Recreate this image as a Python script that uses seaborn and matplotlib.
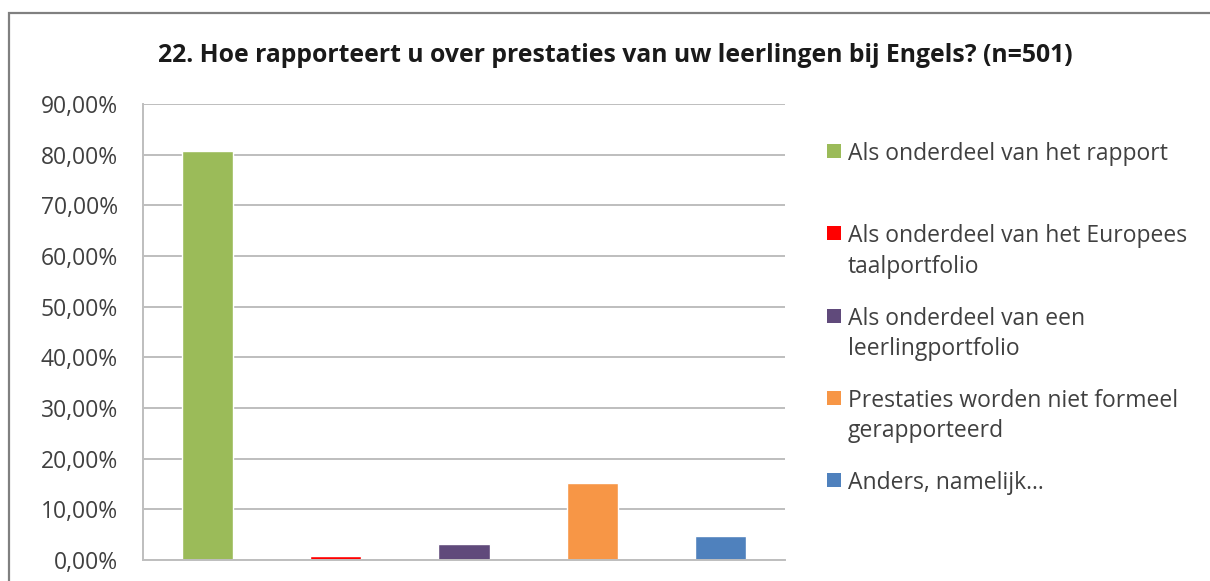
import matplotlib
matplotlib.use("Agg")
import matplotlib.pyplot as plt
import seaborn as sns
import pandas as pd
from matplotlib.patches import Rectangle
from matplotlib.legend_handler import HandlerPatch
from matplotlib.ticker import FuncFormatter, MultipleLocator

title = "22. Hoe rapporteert u over prestaties van uw leerlingen bij Engels? (n=501)"
categories = [
    "Als onderdeel van het rapport",
    "Als onderdeel van het Europees\ntaalportfolio",
    "Als onderdeel van een\nleerlingportfolio",
    "Prestaties worden niet formeel\ngerapporteerd",
    "Anders, namelijk...",
]
values = [0.808, 0.008, 0.032, 0.152, 0.048]
colors = ["#9BBB59", "#FF0000", "#604A7B", "#F79646", "#4F81BD"]

sns.set_theme(style="white")
plt.rcParams["font.family"] = ["Open Sans", "DejaVu Sans"]

fig = plt.figure(figsize=(12.10, 5.81), dpi=100)
ax = fig.add_axes([143 / 1210, 1 - 560 / 581, (785 - 143) / 1210, (560 - 104) / 581])

df = pd.DataFrame({"cat": categories, "val": values})
sns.barplot(data=df, x="cat", y="val", hue="cat", palette=colors,
            width=0.4, legend=False, ax=ax, saturation=1)

ax.set_ylim(0, 0.9)
ax.set_xlim(-0.5, len(categories) - 0.5)
ax.yaxis.set_major_locator(MultipleLocator(0.1))
ax.yaxis.set_major_formatter(FuncFormatter(lambda v, p: f"{v*100:.2f}%".replace(".", ",")))
ax.set_xlabel("")
ax.set_ylabel("")
ax.set_xticks([])
ax.tick_params(axis="y", length=0, pad=18, labelsize=16.5, labelcolor="#404040")
ax.grid(axis="y", color="#BEBEBE", linewidth=1.4)
ax.set_axisbelow(True)
for s in ["top", "right"]:
    ax.spines[s].set_visible(False)
for s in ["left", "bottom"]:
    ax.spines[s].set_color("#BEBEBE")
    ax.spines[s].set_linewidth(1.4)

fig.text(615 / 1210, 1 - 55 / 581, title, ha="center", va="center",
         fontsize=17.8, fontweight="bold", color="#1a1a1a")

# figure border (extends beyond right/bottom edges)
fig.patches.append(Rectangle((9 / 1210, -0.2), 1.5, 1 - 13 / 581 + 0.2,
                             transform=fig.transFigure, fill=False,
                             edgecolor="#808080", linewidth=1.6))


class TopHandler(HandlerPatch):
    def __init__(self, dy, **kw):
        super().__init__(**kw)
        self.dy = dy

    def create_artists(self, legend, orig_handle, xdescent, ydescent,
                       width, height, fontsize, trans):
        size = 10
        p = Rectangle((-xdescent + width - size, -ydescent + self.dy + (height - size) / 2),
                      size, size)
        self.update_prop(p, orig_handle, legend)
        p.set_transform(trans)
        return [p]


handles = [Rectangle((0, 0), 1, 1, facecolor=c, edgecolor="none") for c in colors]
labels = [c if "\n" in c else c + "\n " for c in categories]
hmap = {h: TopHandler(dy=13.7) for h in handles}
leg = ax.legend(handles, labels, handler_map=hmap, loc="upper left",
                bbox_to_anchor=(827 / 1210, 1 - 142 / 581), bbox_transform=fig.transFigure,
                frameon=False, fontsize=16.5, labelspacing=1.22, handlelength=0.62,
                handletextpad=0.28, borderpad=0, borderaxespad=0)
for t in leg.get_texts():
    t.set_linespacing(1.35)
    t.set_color("#404040")

fig.savefig("out.png", dpi=100, facecolor="white")
